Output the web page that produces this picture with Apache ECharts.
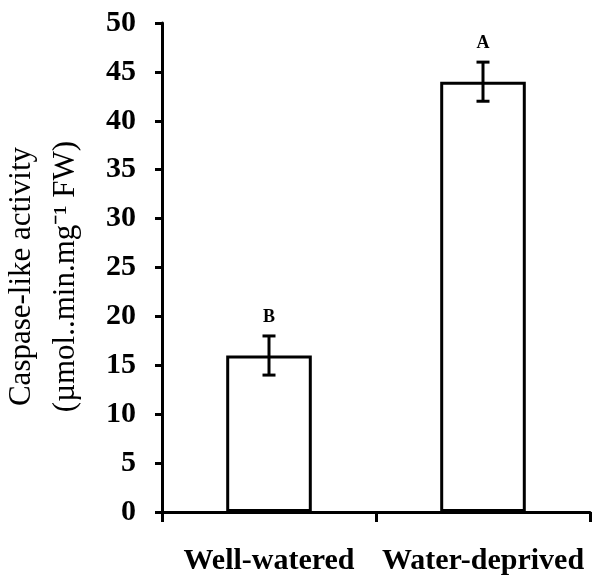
<!DOCTYPE html>
<html><head><meta charset="utf-8">
<script src="https://cdn.jsdelivr.net/npm/echarts@6/dist/echarts.min.js"></script>
<style>html,body{margin:0;padding:0;background:#fff}#c{width:592px;height:577px}</style>
</head><body><div id="c"></div>
<script>
const categories = ['Well-watered', 'Water-deprived'];
const means = [16, 44];
const errors = [2, 2];
const letters = ['B', 'A'];
const yTicks = [0, 5, 10, 15, 20, 25, 30, 35, 40, 45, 50];

const serif = '"Liberation Serif","Times New Roman",serif';
const chart = echarts.init(document.getElementById('c'), null, {renderer: 'canvas'});
const errData = means.map((m, i) => [i, m - errors[i], m + errors[i], letters[i]]);

chart.setOption({
  animation: false,
  backgroundColor: '#fff',
  grid: {left: 162, right: 2, top: 23, bottom: 65, outerBoundsMode: 'none', containLabel: false},
  xAxis: {
    type: 'category',
    data: categories,
    axisLine: {lineStyle: {color: '#000', width: 3}},
    axisTick: {show: true, length: 10, lineStyle: {color: '#000', width: 3}},
    axisLabel: {color: '#000', fontFamily: serif, fontWeight: 'bold', fontSize: 30, margin: 34,
      interval: 0, hideOverlap: false}
  },
  yAxis: {
    type: 'value',
    min: yTicks[0], max: yTicks[yTicks.length - 1], interval: 5,
    splitLine: {show: false},
    axisLine: {show: true, lineStyle: {color: '#000', width: 3}},
    axisTick: {show: true, length: 7, lineStyle: {color: '#000', width: 3}},
    axisLabel: {color: '#000', fontFamily: serif, fontWeight: 'bold', fontSize: 30, margin: 26},
    name: 'Caspase-like activity\n(µmol..min.mg⁻¹ FW)',
    nameLocation: 'middle',
    nameRotate: 90,
    nameGap: 74,
    nameTextStyle: {color: '#000', fontFamily: serif, fontSize: 31, lineHeight: 44,
      padding: [0, 18, 0, 0]}
  },
  series: [
    {
      type: 'bar',
      data: means,
      barWidth: '40%',
      itemStyle: {color: '#fff', borderColor: '#000', borderWidth: 3},
      z: 2
    },
    {
      type: 'custom',
      data: errData,
      z: 3,
      renderItem: function (params, api) {
        const x = api.value(0);
        const lo = api.coord([x, api.value(1)]);
        const hi = api.coord([x, api.value(2)]);
        const hw = 6.5;
        const st = {stroke: '#000', lineWidth: 3};
        return {
          type: 'group',
          children: [
            {type: 'line', shape: {x1: lo[0], y1: lo[1], x2: hi[0], y2: hi[1]}, style: st},
            {type: 'line', shape: {x1: lo[0] - hw, y1: lo[1], x2: lo[0] + hw, y2: lo[1]}, style: st},
            {type: 'line', shape: {x1: hi[0] - hw, y1: hi[1], x2: hi[0] + hw, y2: hi[1]}, style: st},
            {type: 'text', style: {
              text: api.value(3), x: hi[0], y: hi[1] - 19,
              align: 'center', verticalAlign: 'middle',
              font: 'bold 18px ' + serif, fill: '#000'
            }}
          ]
        };
      }
    }
  ]
});
</script></body></html>
